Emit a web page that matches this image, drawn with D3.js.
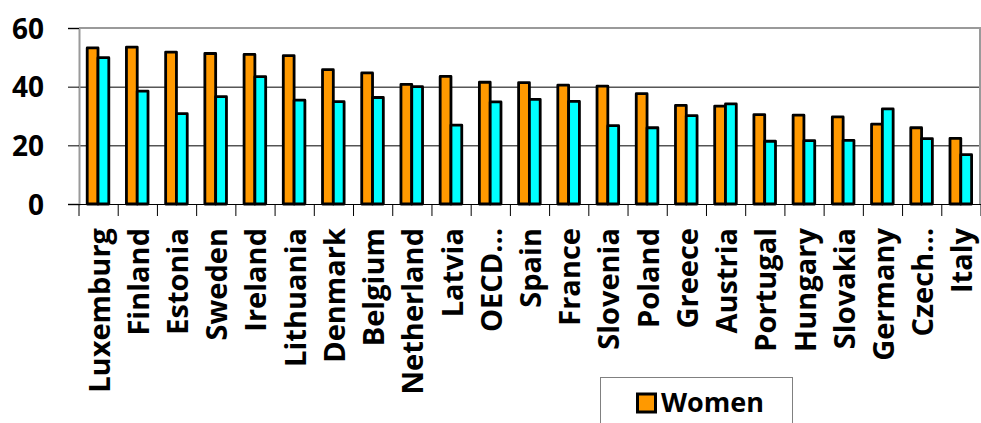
<!DOCTYPE html>
<html>
<head>
<meta charset="utf-8">
<script src="https://cdn.jsdelivr.net/npm/d3@7"></script>
<style>
  html, body { margin: 0; padding: 0; background: #fff; }
  svg { display: block; }
  text { font-family: "Open Sans", Lato, sans-serif; font-weight: bold; fill: #000; }
</style>
</head>
<body>
<svg id="chart" width="981" height="423"></svg>
<script>
// Countries, in chart order
const categories = ["Luxemburg", "Finland", "Estonia", "Sweden", "Ireland", "Lithuania",
  "Denmark", "Belgium", "Netherland", "Latvia", "OECD…", "Spain", "France", "Slovenia",
  "Poland", "Greece", "Austria", "Portugal", "Hungary", "Slovakia", "Germany", "Czech…", "Italy"];

// Women series (orange bars)
const women = [53.2, 53.5, 51.8, 51.3, 51.0, 50.6, 45.8, 44.7, 40.8, 43.5, 41.5, 41.4, 40.5,
  40.2, 37.6, 33.6, 33.4, 30.5, 30.3, 29.7, 27.2, 26.0, 22.4];

// Men series (cyan bars)
const men = [49.9, 38.5, 30.8, 36.6, 43.4, 35.4, 34.9, 36.3, 40.0, 26.9, 34.8, 35.7, 35.0,
  26.7, 26.0, 30.1, 34.1, 21.4, 21.6, 21.7, 32.4, 22.3, 16.8];

const seriesNames = ["Women", "Men"];
const seriesColors = ["#FF9900", "#00FFFF"];
const yTicks = [0, 20, 40, 60];

const svg = d3.select("#chart");
const plot = { left: 79, right: 981, top: 28, bottom: 204 };

const x = d3.scaleBand().domain(categories).range([plot.left, plot.right]).padding(0);
const y = d3.scaleLinear().domain([0, 60]).range([plot.bottom, plot.top]);
const barW = 10.8;
const xs = d3.scaleBand().domain(seriesNames)
  .range([x.bandwidth() / 2 - barW - 0.6, x.bandwidth() / 2 + barW - 0.6]);

// horizontal gridlines
svg.append("g")
  .selectAll("line")
  .data(yTicks.filter(t => t > 0 && t < 60))
  .join("line")
  .attr("x1", plot.left).attr("x2", plot.right)
  .attr("y1", d => y(d) + 0.5).attr("y2", d => y(d) + 0.5)
  .attr("stroke", "#000").attr("stroke-width", 1);

// plot frame (top and right)
svg.append("path")
  .attr("d", `M${plot.left},${plot.top}H${plot.right - 1}V${plot.bottom}`)
  .attr("fill", "none").attr("stroke", "#9a9a9a").attr("stroke-width", 2);

// y axis
const yAxis = svg.append("g")
  .attr("transform", `translate(${plot.left},0)`)
  .call(d3.axisLeft(y).tickValues(yTicks).tickSize(11).tickPadding(0).tickFormat(d3.format("d")));
yAxis.select(".domain").attr("stroke", "#9a9a9a").attr("stroke-width", 2);
yAxis.selectAll(".tick line").attr("stroke", "#000").attr("stroke-width", 1);
yAxis.selectAll(".tick text")
  .attr("x", -35).attr("dy", "0.36em")
  .style("font-size", "28px").style("font-family", "'Open Sans', sans-serif").style("font-weight", "bold");

// bars
const groups = svg.append("g")
  .selectAll("g")
  .data(categories.map((c, i) => ({ c, vals: [women[i], men[i]] })))
  .join("g")
  .attr("transform", d => `translate(${x(d.c)},0)`);

groups.selectAll("rect")
  .data(d => d.vals.map((v, k) => ({ v, k })))
  .join("rect")
  .attr("x", d => xs(seriesNames[d.k]))
  .attr("width", xs.bandwidth())
  .attr("y", d => y(d.v))
  .attr("height", d => y(0) - y(d.v))
  .attr("fill", d => seriesColors[d.k])
  .attr("stroke", "#000").attr("stroke-width", 2.8).attr("stroke-linejoin", "round");

// x axis
const xAxis = svg.append("g")
  .attr("transform", `translate(0,${plot.bottom})`);
xAxis.append("line")
  .attr("x1", plot.left - 11).attr("x2", plot.right)
  .attr("y1", 0.5).attr("y2", 0.5).attr("stroke", "#000");
xAxis.selectAll("line.tick")
  .data(categories.map(c => x(c)).concat([plot.right]))
  .join("line").attr("class", "tick")
  .attr("x1", d => d).attr("x2", d => d)
  .attr("y1", 0).attr("y2", 12).attr("stroke", "#000");

xAxis.selectAll("text")
  .data(categories)
  .join("text")
  .attr("transform", d => `translate(${x(d) + x.bandwidth() / 2 + 11},24) rotate(-90)`)
  .attr("text-anchor", "end")
  .style("font-size", "29px")
  .text(d => d);

// legend (box continues below the visible area)
const legend = svg.append("g");
legend.append("rect")
  .attr("x", 600.5).attr("y", 377.5).attr("width", 192).attr("height", 80)
  .attr("fill", "#fff").attr("stroke", "#808080").attr("stroke-width", 1);
legend.append("rect")
  .attr("x", 637.5).attr("y", 394).attr("width", 18).attr("height", 18)
  .attr("fill", seriesColors[0]).attr("stroke", "#000").attr("stroke-width", 3);
legend.append("text")
  .attr("x", 661).attr("y", 412)
  .style("font-size", "27px")
  .text(seriesNames[0]);
</script>
</body>
</html>
